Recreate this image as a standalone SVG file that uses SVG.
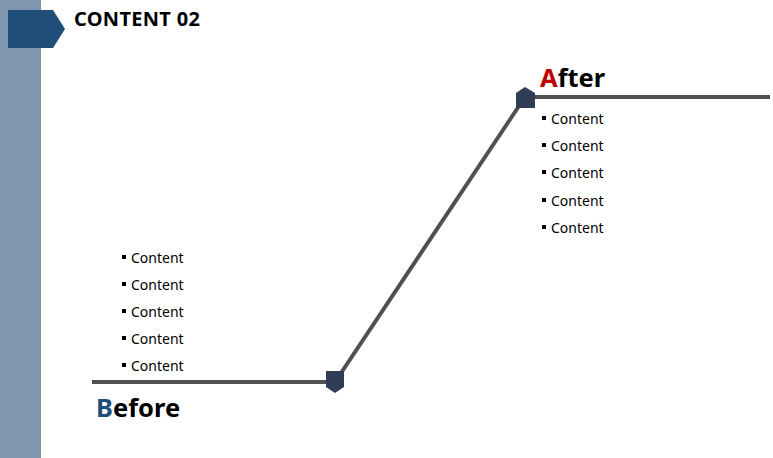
<svg xmlns="http://www.w3.org/2000/svg" width="773" height="458" viewBox="0 0 773 458">
<style>
.c{font-family:"Noto Sans","Open Sans","Liberation Sans",sans-serif;font-size:14px;fill:#000}
.h{font-family:"Noto Sans","Open Sans","Liberation Sans",sans-serif;font-weight:bold;fill:#000}
.ln{stroke:#505050;stroke-width:4;fill:none}
.mk{fill:#2E3D55}
</style>
<rect x="0" y="0" width="773" height="458" fill="#fff"/>
<rect x="0" y="0" width="41" height="458" fill="#8096AF"/>
<g id="header">
<polygon points="8,10 53,10 65,29 53,48 8,48" fill="#1F4E79"/>
<text class="h" x="74" y="26" font-size="20" letter-spacing="0.3">CONTENT 02</text>
</g>
<g id="connectors">
<polyline class="ln" points="92,382 335,382 525,97 770,97"/>
</g>
<g id="before">
<polygon class="mk" points="326,371 344,371 344,387 335,393 326,387"/>
<text class="h" x="96" y="417" font-size="25.5"><tspan fill="#1F4E79">B</tspan>efore</text>
<g class="c">
<rect x="122" y="255" width="4" height="4"/><text x="131" y="263">Content</text>
<rect x="122" y="282" width="4" height="4"/><text x="131" y="290">Content</text>
<rect x="122" y="309" width="4" height="4"/><text x="131" y="317">Content</text>
<rect x="122" y="336" width="4" height="4"/><text x="131" y="344">Content</text>
<rect x="122" y="363" width="4" height="4"/><text x="131" y="371">Content</text>
</g>
</g>
<g id="after">
<polygon class="mk" points="525,87 535,93 535,108 516,108 516,93"/>
<text class="h" x="540" y="87" font-size="25.5"><tspan fill="#C00000">A</tspan>fter</text>
<g class="c">
<rect x="542" y="116" width="4" height="4"/><text x="551" y="124">Content</text>
<rect x="542" y="143" width="4" height="4"/><text x="551" y="151">Content</text>
<rect x="542" y="170" width="4" height="4"/><text x="551" y="178">Content</text>
<rect x="542" y="198" width="4" height="4"/><text x="551" y="206">Content</text>
<rect x="542" y="225" width="4" height="4"/><text x="551" y="233">Content</text>
</g>
</g>
</svg>
